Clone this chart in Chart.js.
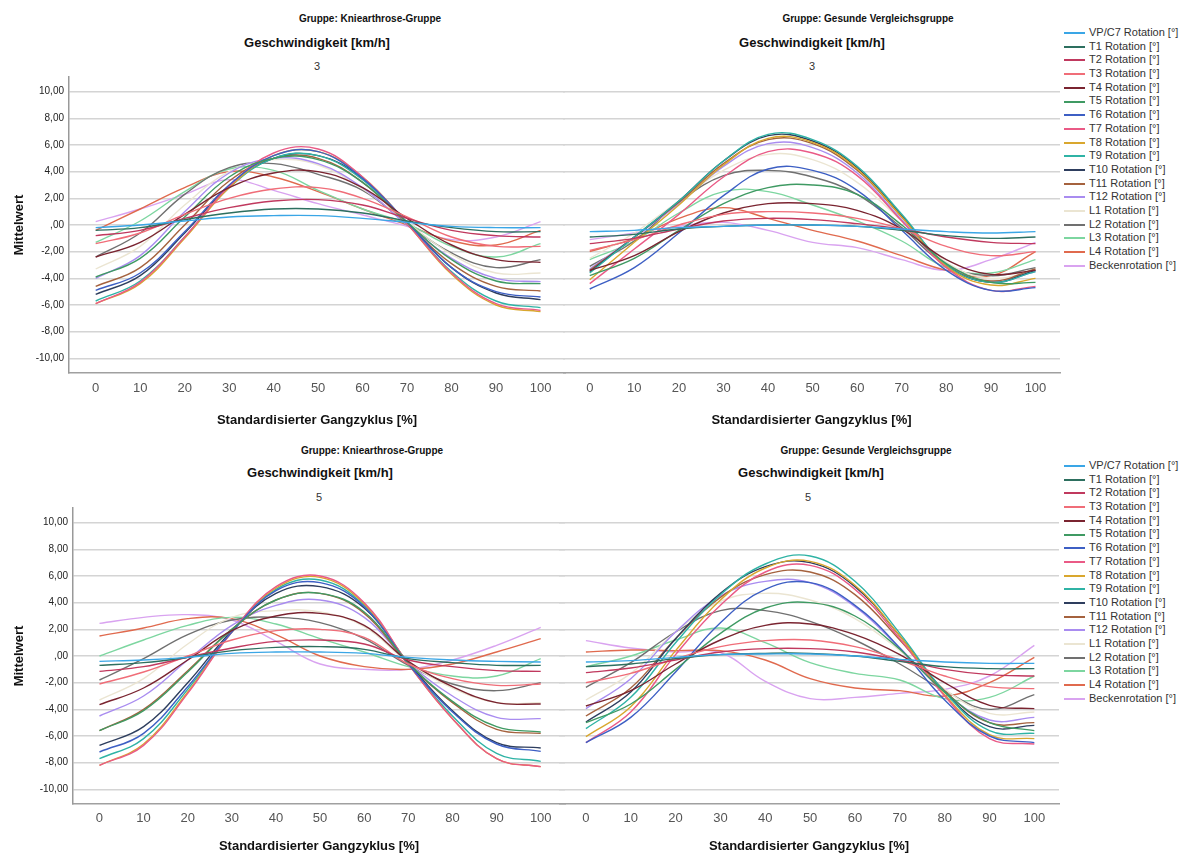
<!doctype html>
<html>
<head>
<meta charset="utf-8">
<title>Rotation im Gangzyklus</title>
<script src="https://cdn.jsdelivr.net/npm/chart.js"></script>
<style>
    body {
        margin: 0;
        background: #fff;
        font-family: "Liberation Sans", Arial, sans-serif;
    }

    #page {
        position: relative;
        width: 1190px;
        height: 854px;
        overflow: hidden;
    }

    .panel {
        position: absolute;
    }

    .head {
        position: absolute;
        transform: translate(-50%, -50%);
        white-space: nowrap;
        color: #111;
    }

    .grp { font-size: 10px; font-weight: bold; }
    .speed { font-size: 13px; font-weight: bold; }
    .val { font-size: 11px; color: #333; }

    .legend {
        position: absolute;
        left: 1064px;
        font-size: 11px;
        color: #333;
    }

    .legend div {
        height: 13.7px;
        line-height: 13.7px;
        white-space: nowrap;
    }

    .legend .ln {
        display: inline-block;
        width: 21px;
        height: 2px;
        vertical-align: middle;
        margin-right: 4px;
    }
</style>
</head>
<body>
<div id="page">
    <div class="head grp" style="left:370px; top:18px">Gruppe: Kniearthrose-Gruppe</div>
    <div class="head speed" style="left:317px; top:42px">Geschwindigkeit [km/h]</div>
    <div class="head val" style="left:317px; top:66px">3</div>

    <div class="head grp" style="left:868px; top:18px">Gruppe: Gesunde Vergleichsgruppe</div>
    <div class="head speed" style="left:812px; top:42px">Geschwindigkeit [km/h]</div>
    <div class="head val" style="left:812px; top:66px">3</div>

    <div class="head grp" style="left:372px; top:450px">Gruppe: Kniearthrose-Gruppe</div>
    <div class="head speed" style="left:320px; top:472px">Geschwindigkeit [km/h]</div>
    <div class="head val" style="left:319px; top:497px">5</div>

    <div class="head grp" style="left:866px; top:450px">Gruppe: Gesunde Vergleichsgruppe</div>
    <div class="head speed" style="left:811px; top:472px">Geschwindigkeit [km/h]</div>
    <div class="head val" style="left:808px; top:497px">5</div>

    <canvas id="knee3" class="panel" width="567" height="430" style="left:0; top:0"></canvas>
    <canvas id="healthy3" class="panel" width="500" height="430" style="left:563px; top:0"></canvas>
    <canvas id="knee5" class="panel" width="567" height="424" style="left:0; top:430px"></canvas>
    <canvas id="healthy5" class="panel" width="502" height="424" style="left:559px; top:430px"></canvas>

    <div id="legendTop" class="legend" style="top:26px"></div>
    <div id="legendBottom" class="legend" style="top:459px"></div>
</div>

<script>
    const gaitPercent = [0, 10, 20, 30, 40, 50, 60, 70, 80, 90, 100];
    const xTicks = [0, 10, 20, 30, 40, 50, 60, 70, 80, 90, 100];
    const yTicks = [-10, -8, -6, -4, -2, 0, 2, 4, 6, 8, 10];

    const seriesNames = [
        'VP/C7 Rotation [°]', 'T1 Rotation [°]', 'T2 Rotation [°]', 'T3 Rotation [°]',
        'T4 Rotation [°]', 'T5 Rotation [°]', 'T6 Rotation [°]', 'T7 Rotation [°]',
        'T8 Rotation [°]', 'T9 Rotation [°]', 'T10 Rotation [°]', 'T11 Rotation [°]',
        'T12 Rotation [°]', 'L1 Rotation [°]', 'L2 Rotation [°]', 'L3 Rotation [°]',
        'L4 Rotation [°]', 'Beckenrotation [°]'
    ];
    const seriesColors = [
        '#3aa6e6', '#2d6f5f', '#c0395e', '#f06d78', '#7a2430', '#3f9a63',
        '#3d5fc4', '#ea5a86', '#d9a72e', '#2fb3a5', '#2e3e5e', '#a5623e',
        '#a98cf0', '#ebe5d2', '#707070', '#7dd6a0', '#e06a4e', '#d9a3f0'
    ];

    // Kniearthrose-Gruppe, 3 km/h
    const knee3 = [
        [-0.2, 0.0, 0.3, 0.6, 0.7, 0.7, 0.5, 0.2, -0.1, -0.2, -0.2],
        [-0.4, -0.2, 0.4, 0.9, 1.2, 1.2, 0.9, 0.3, -0.2, -0.5, -0.5],
        [-0.8, -0.4, 0.5, 1.3, 1.8, 1.9, 1.5, 0.5, -0.4, -0.8, -0.9],
        [-1.4, -0.6, 0.8, 2.0, 2.7, 2.8, 2.0, 0.6, -0.9, -1.6, -1.6],
        [-2.4, -1.3, 0.8, 2.8, 3.9, 4.0, 2.8, 0.5, -1.5, -2.6, -2.8],
        [-3.9, -2.5, 0.6, 3.6, 5.0, 4.9, 3.2, 0.2, -2.6, -4.2, -4.4],
        [-4.9, -3.6, -0.5, 3.0, 5.2, 5.5, 3.5, 0.2, -3.2, -5.0, -5.4],
        [-5.9, -4.3, -0.9, 2.9, 5.4, 5.7, 3.6, 0.1, -3.6, -5.9, -6.4],
        [-5.9, -4.4, -1.0, 2.8, 5.2, 5.5, 3.6, 0.1, -3.7, -6.0, -6.5],
        [-5.7, -4.2, -0.9, 2.8, 5.0, 5.2, 3.4, 0.1, -3.5, -5.7, -6.2],
        [-5.2, -3.8, -0.6, 2.9, 5.0, 5.2, 3.5, 0.2, -3.2, -5.1, -5.6],
        [-4.6, -3.2, 0.0, 3.3, 5.0, 5.0, 3.2, 0.1, -2.9, -4.6, -4.95],
        [-4.0, -2.3, 1.0, 3.9, 5.0, 4.6, 2.8, 0.0, -2.5, -4.0, -4.25],
        [-3.3, -1.6, 1.5, 4.0, 4.9, 4.5, 2.7, 0.2, -2.2, -3.6, -3.6],
        [-2.4, -0.6, 2.3, 4.3, 4.6, 3.8, 2.6, 0.1, -2.1, -3.2, -2.6],
        [-1.3, 0.3, 2.5, 4.2, 4.1, 2.6, 1.2, 0.1, -1.6, -2.4, -1.4],
        [-0.4, 1.2, 2.8, 4.0, 3.6, 2.5, 1.2, 0.0, -1.2, -1.5, -0.4],
        [0.25, 1.2, 2.3, 3.4, 2.6, 1.6, 0.75, -0.1, -1.1, -0.9, 0.25]
    ];

    // Gesunde Vergleichsgruppe, 3 km/h
    const healthy3 = [
        [-0.5, -0.4, -0.2, -0.1, 0.0, 0.0, -0.1, -0.3, -0.5, -0.6, -0.5],
        [-0.9, -0.7, -0.3, -0.1, 0.0, 0.0, -0.1, -0.4, -0.8, -1.0, -0.9],
        [-1.4, -1.0, -0.3, 0.3, 0.5, 0.4, 0.1, -0.3, -0.9, -1.3, -1.4],
        [-1.9, -1.1, 0.0, 0.8, 1.0, 0.9, 0.5, -0.3, -1.6, -2.3, -2.0],
        [-3.4, -2.3, -0.5, 0.9, 1.6, 1.6, 1.1, -0.3, -2.6, -3.7, -3.4],
        [-3.8, -2.5, -0.4, 1.6, 2.8, 3.0, 2.3, 0.0, -2.9, -4.3, -4.3],
        [-4.8, -3.2, -0.6, 2.2, 4.2, 4.1, 2.6, -0.4, -3.4, -4.9, -4.7],
        [-4.4, -1.8, 0.8, 3.6, 5.5, 5.4, 3.7, 0.3, -3.2, -4.9, -4.6],
        [-4.1, -1.3, 1.5, 4.5, 6.5, 6.2, 4.2, 0.6, -3.1, -4.5, -4.0],
        [-3.6, -0.9, 1.8, 4.8, 6.8, 6.4, 4.4, 0.8, -3.0, -4.3, -3.5],
        [-3.5, -0.9, 1.8, 4.8, 6.7, 6.3, 4.3, 0.7, -3.0, -4.3, -3.4],
        [-3.4, -0.9, 1.7, 4.6, 6.4, 6.1, 4.1, 0.6, -3.0, -4.2, -3.3],
        [-3.3, -0.9, 1.6, 4.4, 6.1, 5.8, 3.9, 0.4, -3.0, -4.3, -3.5],
        [-2.5, -0.6, 1.8, 4.1, 5.3, 4.9, 3.2, 0.3, -2.8, -4.0, -3.4],
        [-3.1, -1.2, 1.7, 3.7, 4.1, 3.6, 2.3, -0.2, -3.0, -3.8, -3.2],
        [-2.6, -1.2, 0.9, 2.5, 2.5, 1.5, 0.3, -1.2, -3.2, -3.6, -2.6],
        [-2.0, -1.0, 0.5, 1.3, 0.5, -0.4, -1.2, -2.3, -3.4, -3.8, -2.0],
        [-1.1, -0.6, -0.1, 0.2, -0.4, -1.3, -1.7, -2.6, -3.4, -2.6, -1.3]
    ];

    // Kniearthrose-Gruppe, 5 km/h
    const knee5 = [
        [-0.4, -0.3, -0.1, 0.2, 0.3, 0.3, 0.2, -0.1, -0.3, -0.4, -0.45],
        [-0.7, -0.5, -0.1, 0.4, 0.65, 0.7, 0.5, -0.2, -0.5, -0.7, -0.7],
        [-1.15, -0.8, -0.1, 0.6, 1.1, 1.2, 0.9, -0.3, -0.8, -1.1, -1.15],
        [-2.1, -1.2, 0.0, 1.2, 1.9, 2.0, 1.4, -0.6, -1.7, -2.2, -2.1],
        [-3.65, -2.4, -0.3, 1.9, 3.0, 3.2, 2.3, -0.4, -2.3, -3.5, -3.6],
        [-5.6, -4.1, -1.2, 2.0, 4.2, 4.7, 3.3, -0.5, -3.4, -5.3, -5.7],
        [-7.2, -5.8, -2.3, 1.8, 4.9, 5.5, 3.7, -0.6, -4.2, -6.6, -7.15],
        [-8.2, -6.7, -2.8, 1.8, 5.2, 6.0, 4.0, -0.6, -4.7, -7.7, -8.3],
        [-8.2, -6.6, -2.7, 1.8, 5.1, 5.9, 3.9, -0.6, -4.7, -7.7, -8.3],
        [-7.7, -6.2, -2.5, 1.8, 5.0, 5.7, 3.8, -0.6, -4.5, -7.3, -7.9],
        [-6.7, -5.3, -2.0, 1.9, 4.7, 5.2, 3.6, -0.5, -4.1, -6.5, -6.9],
        [-5.6, -4.0, -1.1, 2.0, 4.2, 4.7, 3.2, -0.6, -3.5, -5.5, -5.8],
        [-4.5, -3.0, -0.3, 2.3, 3.8, 4.2, 2.9, -0.5, -3.0, -4.6, -4.7],
        [-3.3, -1.7, 0.9, 2.9, 3.4, 3.3, 2.2, -0.5, -2.4, -3.5, -3.5],
        [-1.8, -0.2, 1.6, 2.7, 2.9, 2.5, 1.3, -0.7, -2.1, -2.6, -2.0],
        [0.0, 1.2, 2.3, 2.9, 2.4, 1.3, 0.3, -0.8, -1.5, -1.5, -0.2],
        [1.5, 2.1, 2.8, 2.8, 1.6, 0.0, -0.8, -1.0, -0.6, 0.3, 1.3],
        [2.45, 2.9, 3.1, 2.7, 1.1, -0.6, -1.0, -1.0, -0.3, 0.8, 2.15]
    ];

    // Gesunde Vergleichsgruppe, 5 km/h
    const healthy5 = [
        [-0.45, -0.35, -0.1, 0.1, 0.15, 0.15, 0.0, -0.25, -0.45, -0.55, -0.55],
        [-0.8, -0.6, -0.2, 0.1, 0.2, 0.2, 0.0, -0.4, -0.8, -0.95, -0.95],
        [-1.25, -0.9, -0.3, 0.3, 0.55, 0.55, 0.3, -0.3, -1.0, -1.4, -1.5],
        [-2.0, -1.3, -0.2, 0.7, 1.15, 1.2, 0.7, -0.3, -1.5, -2.3, -2.45],
        [-3.75, -2.6, -0.6, 1.2, 2.3, 2.4, 1.6, 0.1, -2.0, -3.7, -3.95],
        [-5.0, -3.6, -1.0, 1.7, 3.6, 4.0, 3.0, 0.5, -2.7, -5.0, -5.6],
        [-6.5, -4.6, -1.2, 2.5, 5.0, 5.5, 3.8, 0.6, -3.3, -6.0, -6.5],
        [-6.5, -4.2, 0.1, 3.8, 6.3, 6.8, 5.0, 1.3, -3.0, -6.2, -6.6],
        [-6.05, -3.8, 0.4, 4.2, 6.6, 7.1, 5.3, 1.5, -2.9, -5.9, -6.2],
        [-5.45, -3.1, 1.0, 4.6, 6.9, 7.5, 5.6, 1.7, -2.7, -5.6, -5.8],
        [-4.95, -2.7, 1.3, 4.7, 6.7, 7.0, 5.2, 1.5, -2.7, -5.3, -5.2],
        [-4.5, -2.4, 1.3, 4.4, 6.1, 6.3, 4.6, 1.2, -2.6, -5.0, -5.0],
        [-3.95, -1.7, 1.8, 4.5, 5.6, 5.5, 3.7, 0.6, -2.7, -4.8, -4.6],
        [-3.3, -1.3, 1.8, 4.1, 4.7, 4.2, 2.8, 0.4, -2.5, -4.3, -4.2],
        [-2.35, -0.5, 1.8, 3.4, 3.4, 2.6, 1.2, -0.6, -2.6, -4.0, -2.9],
        [-0.8, 0.0, 1.2, 2.1, 1.0, -0.5, -1.3, -1.8, -3.2, -3.1, -1.5],
        [0.3, 0.45, 0.4, 0.4, -0.3, -1.7, -2.4, -2.6, -3.0, -2.0, -0.1],
        [1.15, 0.6, 0.3, 0.25, -1.9, -3.2, -3.1, -2.8, -2.5, -1.5, 0.8]
    ];

    // SPSS style: ",00" for zero, comma as decimal separator
    function fmt(v) {
        if (v === 0) return ',00';
        return v.toFixed(2).replace('.', ',');
    }

    function makePanel(id, rows, cfg) {
        new Chart(document.getElementById(id), {
            type: 'line',
            data: {
                datasets: rows.map((row, i) => ({
                    label: seriesNames[i],
                    data: row.map((y, j) => ({ x: gaitPercent[j], y })),
                    borderColor: seriesColors[i],
                    borderWidth: 1.4,
                    pointRadius: 0,
                    tension: 0.4,
                    fill: false
                }))
            },
            options: {
                responsive: false,
                animation: false,
                layout: { padding: { top: cfg.top, right: cfg.right, left: 0, bottom: 0 } },
                plugins: {
                    legend: { display: false },
                    tooltip: { enabled: false }
                },
                scales: {
                    x: {
                        type: 'linear',
                        min: -6,
                        max: 105.5,
                        afterBuildTicks: s => { s.ticks = xTicks.map(v => ({ value: v })); },
                        afterFit: s => { s.height = cfg.xHeight; },
                        grid: { display: false, drawTicks: false },
                        border: { display: true, color: '#a0a0a0', width: 1.5 },
                        ticks: {
                            padding: cfg.tickPad,
                            color: '#555',
                            font: { size: 13 },
                            maxRotation: 0,
                            autoSkip: false
                        },
                        title: {
                            display: true,
                            text: 'Standardisierter Gangzyklus [%]',
                            color: '#111',
                            font: { size: 13, weight: 'bold' },
                            padding: { top: 0, bottom: cfg.titlePad }
                        }
                    },
                    y: {
                        min: -11.1,
                        max: 11.1,
                        afterBuildTicks: s => { s.ticks = yTicks.map(v => ({ value: v })); },
                        afterFit: s => { s.width = cfg.yWidth; },
                        grid: { color: '#d4d4d4', lineWidth: 1.5, drawTicks: false },
                        border: { display: cfg.showY, color: '#999', width: 1.5 },
                        ticks: {
                            display: cfg.showY,
                            padding: 5,
                            color: '#222',
                            font: { size: 10 },
                            callback: v => fmt(v)
                        },
                        title: {
                            display: cfg.showY,
                            text: 'Mittelwert',
                            color: '#111',
                            font: { size: 13, weight: 'bold' },
                            padding: { top: 12 }
                        }
                    }
                }
            }
        });
    }

    function makeLegend(id) {
        const box = document.getElementById(id);
        seriesNames.forEach((name, i) => {
            const row = document.createElement('div');
            const ln = document.createElement('span');
            ln.className = 'ln';
            ln.style.backgroundColor = seriesColors[i];
            row.appendChild(ln);
            row.appendChild(document.createTextNode(name));
            box.appendChild(row);
        });
    }

    const topCfg = { top: 77, xHeight: 57, tickPad: 8, titlePad: 2 };
    const bottomCfg = { top: 78, xHeight: 50, tickPad: 7, titlePad: 0 };

    makePanel('knee3', knee3, { ...topCfg, right: 2, yWidth: 69, showY: true });
    makePanel('healthy3', healthy3, { ...topCfg, right: 3, yWidth: 0, showY: false });
    makePanel('knee5', knee5, { ...bottomCfg, right: 2, yWidth: 73, showY: true });
    makePanel('healthy5', healthy5, { ...bottomCfg, right: 2, yWidth: 0, showY: false });

    makeLegend('legendTop');
    makeLegend('legendBottom');
</script>
</body>
</html>
